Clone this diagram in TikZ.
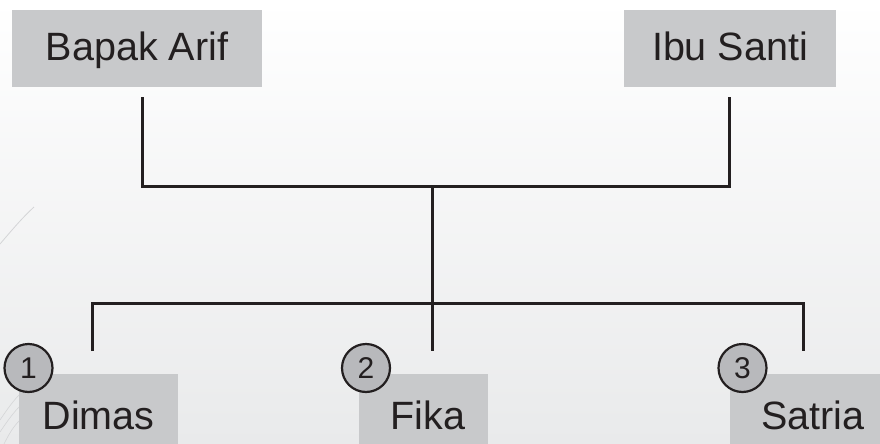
\documentclass[tikz,border=0pt]{standalone}
\usepackage{fontspec}
\setmainfont{Liberation Sans}
\definecolor{boxgray}{HTML}{C8C9CB}
\definecolor{circgray}{HTML}{B8B9BC}
\definecolor{ink}{HTML}{231F20}
\definecolor{bgbot}{HTML}{E9EAEB}
\definecolor{faint}{HTML}{D4D5D7}
\begin{document}
\begin{tikzpicture}[x=1pt,y=-1pt,
  personbox/.style={fill=boxgray, draw=none, inner sep=0pt, font=\fontsize{39.5}{40}\selectfont, text=ink, text height=28pt},
  topbox/.style={personbox, minimum height=77pt, text depth=5pt},
  childbox/.style={personbox, minimum height=82pt, text depth=0pt},
  numcirc/.style={circle, fill=circgray, draw=ink, line width=2.2pt, minimum size=48pt, inner sep=0pt, font=\fontsize{30}{31}\selectfont, text=ink},
  link/.style={draw=ink, line width=3pt}]
\useasboundingbox (0,0) rectangle (880,444);
\clip (0,0) rectangle (880,444);
\shade[top color=white, bottom color=bgbot] (0,0) rectangle (880,444);
% faint decorative curves
\draw[faint, line width=0.8pt] (0,244) .. controls (12,230) and (22,218) .. (34,207);
\draw[faint, line width=0.6pt] (0,420) .. controls (8,408) and (14,400) .. (20,394);
\draw[faint, line width=0.6pt] (0,432) .. controls (8,420) and (14,412) .. (20,406);
\draw[faint, line width=0.6pt] (4,444) .. controls (10,432) and (14,426) .. (20,420);
% parents
\node[topbox, minimum width=250pt] (arif) at (137,48.5) {Bapak Arif};
\node[topbox, minimum width=212pt] (santi) at (730,48.5) {Ibu Santi};
% children
\node[childbox, minimum width=159pt] (dimas) at (98.5,415) {Dimas};
\node[childbox, minimum width=129pt] (fika) at (423.5,415) {\hspace*{9pt}Fika};
\node[childbox, minimum width=160pt] (satria) at (810,415) {\hspace*{18pt}Satria\hspace*{12pt}};
\node[numcirc] (n1) at (28.5,368) {1};
\node[numcirc] (n2) at (366,368) {2};
\node[numcirc] (n3) at (742.5,368) {3};
% connector points
\coordinate (pa) at (142,97);
\coordinate (ps) at (729,97);
\coordinate (pal) at (142,186.5);
\coordinate (psl) at (729,186.5);
\coordinate (mid) at (432.5,186.5);
\coordinate (bar) at (432.5,303);
\coordinate (cd) at (92,303);
\coordinate (cs) at (803,303);
\coordinate (ed) at (92,351);
\coordinate (ef) at (432.5,351);
\coordinate (es) at (803,351);
\draw[link, line join=miter] (pa) -- (pal) -- (psl) -- (ps);
\draw[link] (mid) -- (bar);
\draw[link, line join=miter] (ed) -- (cd) -- (cs) -- (es);
\draw[link] (bar) -- (ef);
\end{tikzpicture}
\end{document}
